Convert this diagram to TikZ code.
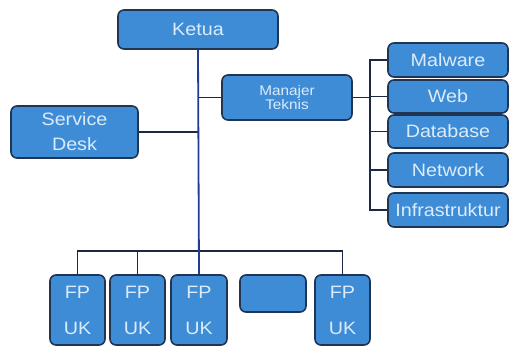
\documentclass[tikz,border=0pt]{standalone}
\usepackage{fontspec}
\newfontfamily\boxfont[FakeStretch=1.1]{Liberation Sans}
\definecolor{boxfill}{RGB}{62,140,214}
\definecolor{boxedge}{RGB}{32,52,84}
\definecolor{boxtext}{RGB}{218,236,252}
\definecolor{linkline}{RGB}{28,40,70}
\definecolor{trunkline}{RGB}{36,58,150}
\tikzset{
  unit/.style={draw=boxedge, fill=boxfill, line width=1.6bp, rounded corners=6bp,
    text=boxtext, inner sep=0pt, align=center,
    font=\boxfont\fontsize{18}{25}\selectfont},
  small/.style={font=\boxfont\fontsize{14}{13}\selectfont},
  fpuk/.style={font=\boxfont\fontsize{18}{36}\selectfont},
  link/.style={draw=linkline, line width=1.6bp},
  trunk/.style={draw=trunkline, line width=1.8bp}
}
\begin{document}
\begin{tikzpicture}[x=1bp,y=-1bp]
\useasboundingbox (0,0) rectangle (510,347);
% top level
\node[unit, minimum width=160bp, minimum height=39bp] (ketua) at (198,29.5) {Ketua};
\node[unit, small, minimum width=130bp, minimum height=45bp] (mt) at (287,97.5) {Manajer\\Teknis};
\node[unit, minimum width=127bp, minimum height=52bp] (sd) at (74.5,132) {Service\\Desk};
% technical teams
\node[unit, minimum width=120bp, minimum height=34bp] (mal) at (448,60) {Malware};
\node[unit, minimum width=120bp, minimum height=33bp] (web) at (448,96.5) {Web};
\node[unit, minimum width=120bp, minimum height=33bp] (db) at (448,131.5) {Database};
\node[unit, minimum width=120bp, minimum height=34bp] (net) at (448,170) {Network};
\node[unit, minimum width=120bp, minimum height=34bp] (inf) at (448,210) {Infrastruktur};
% bottom row
\node[unit, fpuk, minimum width=55bp, minimum height=70bp] (fp1) at (77.5,310) {FP\\UK};
\node[unit, fpuk, minimum width=55bp, minimum height=70bp] (fp2) at (137.5,310) {FP\\UK};
\node[unit, fpuk, minimum width=56bp, minimum height=70bp] (fp3) at (199,310) {FP\\UK};
\node[unit, minimum width=66bp, minimum height=37bp] (blank) at (273,293.5) {};
\node[unit, fpuk, minimum width=55bp, minimum height=70bp] (fp5) at (342.5,310) {FP\\UK};
% junction points
\coordinate (bus) at (199,251);
\coordinate (brk) at (370,97.5);
% connectors
\draw[link] (sd.east) -- (sd.east -| bus);
\draw[link] (mt.west) -- (mt.west -| bus);
\draw[link] (fp1.north) |- (bus) -| (fp5.north);
\draw[link] (fp2.north) -- (fp2.north |- bus);
\draw[link] (mt.east) -- (brk);
\draw[link] (mal.west) -| (brk) |- (inf.west);
\draw[link] (web.west) -- (web.west -| brk);
\draw[link] (db.west) -- (db.west -| brk);
\draw[link] (net.west) -- (net.west -| brk);
\draw[trunk] (ketua.south) -- (fp3.north);
\end{tikzpicture}
\end{document}
